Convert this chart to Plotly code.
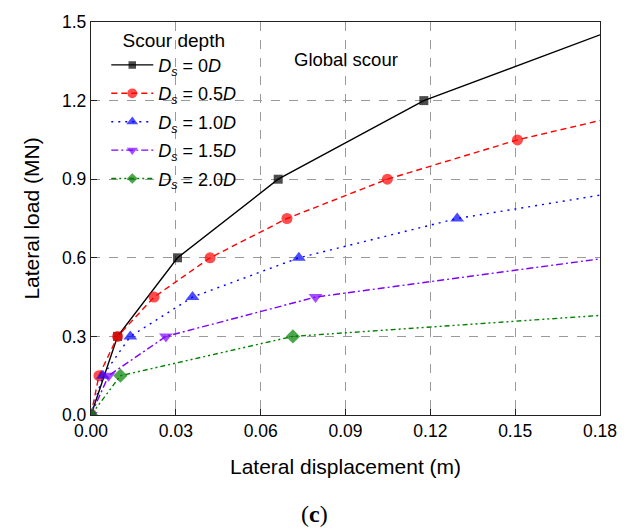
import plotly.graph_objects as go

# Lateral load vs. lateral displacement under global scour, one curve per scour depth
disp_0D = [0.0, 0.0094, 0.0306, 0.0662, 0.1177, 0.18]
load_0D = [0.0, 0.30, 0.60, 0.90, 1.20, 1.451]

disp_05D = [0.0, 0.0028, 0.0094, 0.0223, 0.0421, 0.0693, 0.1048, 0.1508, 0.18]
load_05D = [0.0, 0.15, 0.30, 0.45, 0.60, 0.75, 0.90, 1.05, 1.124]

disp_10D = [0.0, 0.0042, 0.0139, 0.0359, 0.0735, 0.1295, 0.18]
load_10D = [0.0, 0.15, 0.30, 0.45, 0.60, 0.75, 0.839]

disp_15D = [0.0, 0.0062, 0.0265, 0.0794, 0.18]
load_15D = [0.0, 0.15, 0.30, 0.45, 0.596]

disp_20D = [0.0, 0.0104, 0.0714, 0.18]
load_20D = [0.0, 0.15, 0.30, 0.380]

series_names = [
    "<i>D</i><sub><i>s</i></sub>&nbsp;= 0<i>D</i>",
    "<i>D</i><sub><i>s</i></sub>&nbsp;= 0.5<i>D</i>",
    "<i>D</i><sub><i>s</i></sub>&nbsp;= 1.0<i>D</i>",
    "<i>D</i><sub><i>s</i></sub>&nbsp;= 1.5<i>D</i>",
    "<i>D</i><sub><i>s</i></sub>&nbsp;= 2.0<i>D</i>",
]

x_ticks = [0.00, 0.03, 0.06, 0.09, 0.12, 0.15, 0.18]
y_ticks = [0.0, 0.3, 0.6, 0.9, 1.2, 1.5]

FONT = "Liberation Sans, Arial"

styles = [
    dict(color="#000000", dash="solid", symbol="square", size=9),
    dict(color="#ff0000", dash="6px,4px", symbol="circle", size=11),
    dict(color="#0000ff", dash="2px,5px", symbol="triangle-up", size=12),
    dict(color="#8000ff", dash="7px,3px,2px,3px", symbol="triangle-down", size=12),
    dict(color="#008000", dash="5px,3px,2px,3px,2px,3px", symbol="diamond", size=11),
]

data = [
    (disp_0D, load_0D),
    (disp_05D, load_05D),
    (disp_10D, load_10D),
    (disp_15D, load_15D),
    (disp_20D, load_20D),
]

fig = go.Figure()
for i, ((xs, ys), name, st) in enumerate(zip(data, series_names, styles)):
    # the last point only closes the curve at the axis edge, no symbol there
    sizes = [st["size"]] * (len(xs) - 1) + [0]
    fig.add_trace(go.Scatter(
        x=xs, y=ys, name=name, mode="lines+markers", legendgroup=f"g{i}",
        line=dict(color=st["color"], width=1.4, dash=st["dash"]),
        marker=dict(color=st["color"], symbol=st["symbol"], size=sizes,
                    line=dict(width=0)),
    ))

axis_common = dict(
    showline=True, linecolor="#222222", linewidth=1.4, mirror=True,
    ticks="inside", ticklen=6, tickcolor="#222222", tickwidth=1.2,
    showgrid=True, gridcolor="#9a9a9a", griddash="dash", gridwidth=1,
    zeroline=False,
    tickfont=dict(family=FONT, size=17.5, color="black"),
)

fig.update_xaxes(
    range=[0, 0.18], tickvals=x_ticks, tickformat=".2f",
    title=dict(text="Lateral displacement (m)", standoff=19,
               font=dict(family=FONT, size=21, color="black")),
    **axis_common,
)
fig.update_yaxes(
    range=[0, 1.5], tickvals=y_ticks, tickformat=".1f",
    title=dict(text="Lateral load (MN)", standoff=16,
               font=dict(family=FONT, size=21, color="black")),
    **axis_common,
)

fig.add_annotation(
    x=0.09, y=1.355, xref="x", yref="y", text="Global scour", showarrow=False,
    font=dict(family=FONT, size=18.5, color="black"),
)
fig.add_annotation(
    x=(318 - 91) / 517.0, y=-(515 - 415) / 395.0, xref="paper", yref="paper",
    yanchor="middle", text="(<b>c</b>)", showarrow=False,
    font=dict(family="Liberation Serif, Times New Roman", size=24, color="black"),
)

fig.update_layout(
    width=629, height=532,
    margin=dict(l=91, r=21, t=20, b=117),
    paper_bgcolor="white", plot_bgcolor="white",
    showlegend=True,
    legend=dict(
        x=0.03, y=1.0, xanchor="left", yanchor="top",
        bgcolor="rgba(0,0,0,0)", borderwidth=0,
        title=dict(text="Scour depth", side="top center",
                   font=dict(family=FONT, size=19, color="black")),
        font=dict(family=FONT, size=18, color="black"),
        itemwidth=42, tracegroupgap=2,
    ),
)

fig.write_html("out.html")
